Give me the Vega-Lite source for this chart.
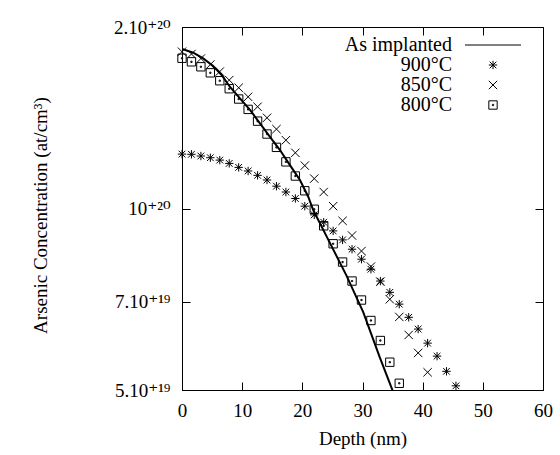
{
  "$schema": "https://vega.github.io/schema/vega-lite/v6.json",
  "width": 361,
  "height": 363,
  "autosize": "none",
  "padding": {"left": 182, "top": 27, "right": 17, "bottom": 65},
  "config": {
    "view": {"stroke": "black", "strokeWidth": 1},
    "font": "Liberation Serif",
    "axis": {
      "labelFont": "Liberation Serif, DejaVu Serif", "titleFont": "Liberation Serif, DejaVu Serif",
      "labelFontSize": 19, "titleFontSize": 19, "titleFontWeight": "normal",
      "labelColor": "black", "titleColor": "black", "domainColor": "black", "tickColor": "black",
      "grid": false, "labelFlush": false
    }
  },
  "datasets": {
    "line": [
      {"depth": 0, "conc": 1.84e20}, {"depth": 1.86, "conc": 1.813e20}, {"depth": 3.52, "conc": 1.774e20},
      {"depth": 5.18, "conc": 1.723e20}, {"depth": 6.58, "conc": 1.665e20}, {"depth": 7.95, "conc": 1.592e20},
      {"depth": 9.63, "conc": 1.523e20}, {"depth": 11.3, "conc": 1.457e20}, {"depth": 12.96, "conc": 1.384e20},
      {"depth": 14.62, "conc": 1.315e20}, {"depth": 16.28, "conc": 1.25e20}, {"depth": 17.94, "conc": 1.18e20},
      {"depth": 19.6, "conc": 1.115e20}, {"depth": 20.98, "conc": 1.046e20}, {"depth": 21.81, "conc": 0.994e20},
      {"depth": 24.58, "conc": 0.877e20}, {"depth": 27.36, "conc": 0.773e20}, {"depth": 30.12, "conc": 0.673e20},
      {"depth": 32.89, "conc": 0.566e20}, {"depth": 35.0, "conc": 0.499e20}
    ],
    "points": [
      {"series": "800°C", "depth": 0, "conc": 1.775e20}, {"series": "800°C", "depth": 1.57, "conc": 1.751e20},
      {"series": "800°C", "depth": 3.14, "conc": 1.718e20}, {"series": "800°C", "depth": 4.71, "conc": 1.679e20},
      {"series": "800°C", "depth": 6.28, "conc": 1.629e20}, {"series": "800°C", "depth": 7.85, "conc": 1.58e20},
      {"series": "800°C", "depth": 9.42, "conc": 1.519e20}, {"series": "800°C", "depth": 10.99, "conc": 1.46e20},
      {"series": "800°C", "depth": 12.56, "conc": 1.396e20}, {"series": "800°C", "depth": 14.13, "conc": 1.329e20},
      {"series": "800°C", "depth": 15.7, "conc": 1.263e20}, {"series": "800°C", "depth": 17.27, "conc": 1.195e20},
      {"series": "800°C", "depth": 18.84, "conc": 1.132e20}, {"series": "800°C", "depth": 20.41, "conc": 1.07e20},
      {"series": "800°C", "depth": 21.98, "conc": 0.997e20}, {"series": "800°C", "depth": 23.55, "conc": 0.936e20},
      {"series": "800°C", "depth": 25.12, "conc": 0.874e20}, {"series": "800°C", "depth": 26.69, "conc": 0.815e20},
      {"series": "800°C", "depth": 28.26, "conc": 0.758e20}, {"series": "800°C", "depth": 29.83, "conc": 0.705e20},
      {"series": "800°C", "depth": 31.4, "conc": 0.652e20}, {"series": "800°C", "depth": 32.97, "conc": 0.604e20},
      {"series": "800°C", "depth": 34.54, "conc": 0.556e20}, {"series": "800°C", "depth": 36.11, "conc": 0.513e20},

      {"series": "900°C", "depth": 0, "conc": 1.231e20}, {"series": "900°C", "depth": 1.57, "conc": 1.23e20},
      {"series": "900°C", "depth": 3.14, "conc": 1.222e20}, {"series": "900°C", "depth": 4.71, "conc": 1.214e20},
      {"series": "900°C", "depth": 6.28, "conc": 1.203e20}, {"series": "900°C", "depth": 7.85, "conc": 1.188e20},
      {"series": "900°C", "depth": 9.42, "conc": 1.17e20}, {"series": "900°C", "depth": 10.99, "conc": 1.154e20},
      {"series": "900°C", "depth": 12.56, "conc": 1.135e20}, {"series": "900°C", "depth": 14.13, "conc": 1.115e20},
      {"series": "900°C", "depth": 15.7, "conc": 1.089e20}, {"series": "900°C", "depth": 17.27, "conc": 1.065e20},
      {"series": "900°C", "depth": 18.84, "conc": 1.039e20}, {"series": "900°C", "depth": 20.41, "conc": 1.009e20},
      {"series": "900°C", "depth": 21.98, "conc": 0.976e20}, {"series": "900°C", "depth": 23.55, "conc": 0.949e20},
      {"series": "900°C", "depth": 25.12, "conc": 0.918e20}, {"series": "900°C", "depth": 26.69, "conc": 0.887e20},
      {"series": "900°C", "depth": 28.26, "conc": 0.856e20}, {"series": "900°C", "depth": 29.83, "conc": 0.824e20},
      {"series": "900°C", "depth": 31.4, "conc": 0.793e20}, {"series": "900°C", "depth": 32.97, "conc": 0.758e20},
      {"series": "900°C", "depth": 34.54, "conc": 0.726e20}, {"series": "900°C", "depth": 36.11, "conc": 0.694e20},
      {"series": "900°C", "depth": 37.68, "conc": 0.66e20}, {"series": "900°C", "depth": 39.25, "conc": 0.631e20},
      {"series": "900°C", "depth": 40.82, "conc": 0.598e20}, {"series": "900°C", "depth": 42.39, "conc": 0.569e20},
      {"series": "900°C", "depth": 43.96, "conc": 0.537e20}, {"series": "900°C", "depth": 45.53, "conc": 0.508e20},

      {"series": "850°C", "depth": 0, "conc": 1.82e20}, {"series": "850°C", "depth": 1.57, "conc": 1.804e20},
      {"series": "850°C", "depth": 3.14, "conc": 1.773e20}, {"series": "850°C", "depth": 4.71, "conc": 1.733e20},
      {"series": "850°C", "depth": 6.28, "conc": 1.687e20}, {"series": "850°C", "depth": 7.85, "conc": 1.633e20},
      {"series": "850°C", "depth": 9.42, "conc": 1.586e20}, {"series": "850°C", "depth": 10.99, "conc": 1.532e20},
      {"series": "850°C", "depth": 12.56, "conc": 1.475e20}, {"series": "850°C", "depth": 14.13, "conc": 1.414e20},
      {"series": "850°C", "depth": 15.7, "conc": 1.354e20}, {"series": "850°C", "depth": 17.27, "conc": 1.298e20},
      {"series": "850°C", "depth": 18.84, "conc": 1.237e20}, {"series": "850°C", "depth": 20.41, "conc": 1.178e20},
      {"series": "850°C", "depth": 21.98, "conc": 1.121e20}, {"series": "850°C", "depth": 23.55, "conc": 1.065e20},
      {"series": "850°C", "depth": 25.12, "conc": 1.009e20}, {"series": "850°C", "depth": 26.69, "conc": 0.954e20},
      {"series": "850°C", "depth": 28.26, "conc": 0.902e20}, {"series": "850°C", "depth": 29.83, "conc": 0.85e20},
      {"series": "850°C", "depth": 31.4, "conc": 0.801e20}, {"series": "850°C", "depth": 32.97, "conc": 0.756e20},
      {"series": "850°C", "depth": 34.54, "conc": 0.707e20}, {"series": "850°C", "depth": 36.11, "conc": 0.661e20},
      {"series": "850°C", "depth": 37.68, "conc": 0.617e20}, {"series": "850°C", "depth": 39.25, "conc": 0.576e20},
      {"series": "850°C", "depth": 40.82, "conc": 0.535e20}
    ]
  },
  "layer": [
    {
      "data": {"name": "line"},
      "mark": {"type": "line", "color": "black", "strokeWidth": 2, "clip": true},
      "encoding": {
        "x": {"field": "depth", "type": "quantitative", "scale": {"domain": [0, 60], "nice": false},
              "axis": {"orient": "bottom", "values": [0, 10, 20, 30, 40, 50, 60], "tickSize": -8, "labelPadding": 19,
                       "title": "Depth (nm)", "titleX": 180.5, "titleY": 48, "titleBaseline": "middle", "titleAnchor": null, "domain": true}},
        "y": {"field": "conc", "type": "quantitative", "scale": {"type": "log", "domain": [5e19, 2e20], "nice": false},
              "axis": {"orient": "left", "values": [5e19, 7e19, 1e20, 2e20], "tickSize": -8, "labelPadding": 20,
                       "labelExpr": "datum.value >= 1.9e20 ? '2.10⁺²⁰' : datum.value >= 9.9e19 ? '10⁺²⁰' : datum.value >= 6.9e19 ? '7.10⁺¹⁹' : '5.10⁺¹⁹'",
                       "title": "Arsenic Concentration (at/cm³)", "titleX": -142, "titleY": 188, "titleAngle": -90, "titleBaseline": "middle", "titleAlign": "center", "domain": true}}
      }
    },
    {
      "data": {"name": "points"},
      "mark": {"type": "point", "filled": false, "color": "black", "strokeWidth": 1, "size": 70, "opacity": 1},
      "encoding": {
        "x": {"field": "depth", "type": "quantitative",
              "axis": {"orient": "top", "values": [0, 10, 20, 30, 40, 50, 60], "tickSize": -8, "labels": false, "title": null, "domain": false}},
        "y": {"field": "conc", "type": "quantitative",
              "axis": {"orient": "right", "values": [5e19, 7e19, 1e20, 2e20], "tickSize": -8, "labels": false, "title": null, "domain": false}},
        "shape": {"field": "series", "type": "nominal",
          "scale": {"domain": ["As implanted", "900°C", "850°C", "800°C"],
                    "range": ["M-6.7,0H6.7", "M-1,0H1M0,-1V1M-0.8,-0.8L0.8,0.8M-0.8,0.8L0.8,-0.8", "M-1,-1L1,1M-1,1L1,-1", "M-1,-1H1V1H-1ZM-0.15,-0.15H0.15V0.15H-0.15Z"]},
          "legend": {"title": null, "orient": "none", "legendX": 301, "legendY": 8, "labelAlign": "right", "labelOffset": -51,
                     "labelFont": "Liberation Serif", "labelFontSize": 20, "labelColor": "black", "labelLimit": 300,
                     "symbolSize": 70, "symbolStrokeWidth": 1, "symbolStrokeColor": "black", "symbolFillColor": "transparent",
                     "rowPadding": 0, "padding": 0,
                     "encode": {"symbols": {"update": {"strokeWidth": {"signal": "datum.value === 'As implanted' ? 2 : 1"}}}}}}
      }
    }
  ],
  "resolve": {"axis": {"x": "independent", "y": "independent"}}
}
